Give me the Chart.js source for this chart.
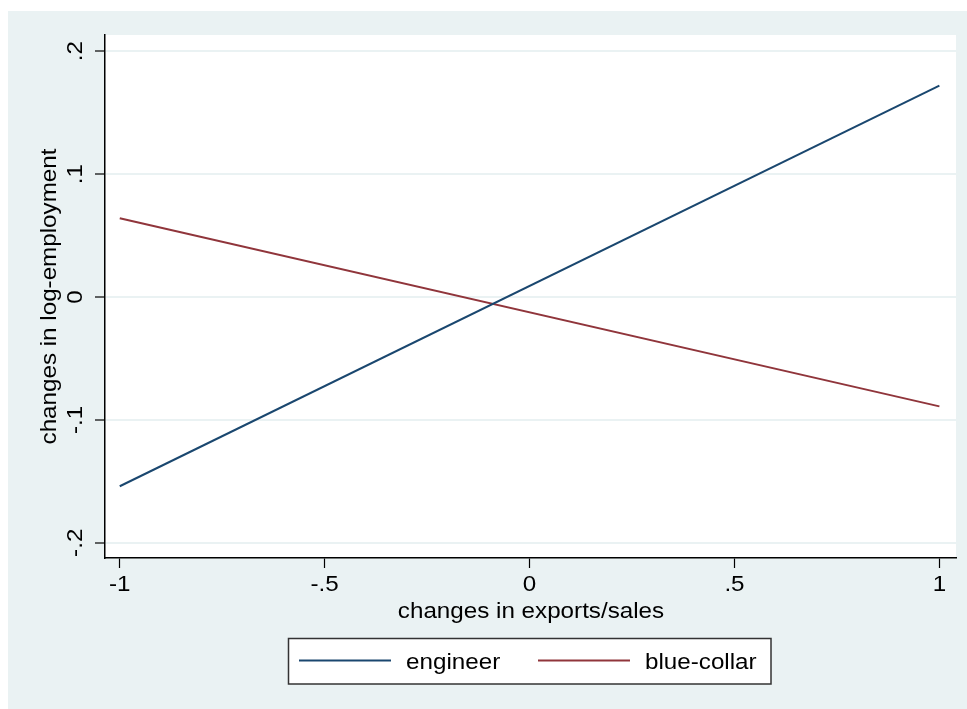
<!DOCTYPE html>
<html>
<head>
<meta charset="utf-8">
<script src="https://cdn.jsdelivr.net/npm/chart.js@4"></script>
<style>
  html, body { margin: 0; padding: 0; background: #fff; }
  canvas { display: block; }
</style>
</head>
<body>
<canvas id="chart" width="967" height="709"></canvas>
<script>
// values (fitted lines at the ends of the x range)
const xValues = [-1, 1];
const engineer = [-0.154, 0.172];
const blueCollar = [0.064, -0.089];

const xTicks = [-1, -0.5, 0, 0.5, 1];
const xTickLabels = ['-1', '-.5', '0', '.5', '1'];
const yTicks = [-0.2, -0.1, 0, 0.1, 0.2];
const yTickLabels = ['-.2', '-.1', '0', '.1', '.2'];

const seriesNames = ['engineer', 'blue-collar'];
const seriesColors = ['#1a476f', '#90353b'];

const BG = '#eaf2f3';
const FONT = '22px "Liberation Sans", Arial, sans-serif';

// Stata text looks a bit wider than Liberation Sans, so stretch it a little
function drawText(ctx, str, x, y, align, rotated) {
  ctx.save();
  ctx.translate(x, y);
  if (rotated) ctx.rotate(-Math.PI / 2);
  ctx.scale(1.1, 1);
  ctx.font = FONT;
  ctx.fillStyle = '#000';
  ctx.textAlign = align;
  ctx.textBaseline = 'alphabetic';
  ctx.fillText(str, 0, 0);
  ctx.restore();
}

const stataLook = {
  id: 'stataLook',
  beforeDraw(chart) {
    const ctx = chart.ctx;
    const a = chart.chartArea;
    ctx.save();
    ctx.fillStyle = '#fff';
    ctx.fillRect(0, 0, chart.width, chart.height);
    ctx.fillStyle = BG;
    ctx.fillRect(8, 11, chart.width - 8, chart.height - 11);
    ctx.fillStyle = '#fff';
    ctx.fillRect(a.left, a.top, a.right - a.left, a.bottom - a.top);
    ctx.restore();
  },
  afterDraw(chart) {
    const ctx = chart.ctx;
    const a = chart.chartArea;
    const xs = chart.scales.x;
    const ys = chart.scales.y;

    xTicks.forEach((v, i) => {
      drawText(ctx, xTickLabels[i], xs.getPixelForValue(v), 591, 'center', false);
    });
    yTicks.forEach((v, i) => {
      drawText(ctx, yTickLabels[i], 82, ys.getPixelForValue(v), 'center', true);
    });

    drawText(ctx, 'changes in exports/sales', (a.left + a.right) / 2 + 0.5, 618, 'center', false);
    drawText(ctx, 'changes in log-employment', 56, (a.top + a.bottom) / 2, 'center', true);

    // legend box
    ctx.save();
    ctx.fillStyle = '#fff';
    ctx.fillRect(288.5, 638.5, 482.5, 45.5);
    ctx.strokeStyle = '#333';
    ctx.lineWidth = 1.5;
    ctx.strokeRect(288.5, 638.5, 482.5, 45.5);
    const keyX = [299, 538];
    seriesNames.forEach((name, i) => {
      ctx.strokeStyle = seriesColors[i];
      ctx.lineWidth = 2;
      ctx.beginPath();
      ctx.moveTo(keyX[i], 660.5);
      ctx.lineTo(keyX[i] + 92, 660.5);
      ctx.stroke();
      drawText(ctx, name, keyX[i] + 107, 669, 'left', false);
    });
    ctx.restore();
  }
};

function series(values) {
  return xValues.map((x, i) => ({ x: x, y: values[i] }));
}

const config = {
  type: 'line',
  data: {
    datasets: [
      { label: seriesNames[0], data: series(engineer), borderColor: seriesColors[0] },
      { label: seriesNames[1], data: series(blueCollar), borderColor: seriesColors[1] }
    ]
  },
  options: {
    responsive: false,
    animation: false,
    layout: { padding: { left: 0, top: 35, right: 11, bottom: 0 } },
    elements: {
      line: { borderWidth: 2, tension: 0, fill: false },
      point: { radius: 0, hoverRadius: 0 }
    },
    plugins: {
      legend: { display: false },
      tooltip: { enabled: false }
    },
    scales: {
      x: {
        type: 'linear',
        min: -1.036,
        max: 1.0405,
        afterBuildTicks: (scale) => { scale.ticks = xTicks.map(v => ({ value: v })); },
        afterFit: (scale) => { scale.height = 151; },
        ticks: { display: false },
        grid: {
          color: 'rgba(0,0,0,0)',
          drawOnChartArea: false,
          tickColor: '#000',
          tickLength: 10,
          tickWidth: 1.2
        },
        border: { color: '#000', width: 1.5 }
      },
      y: {
        type: 'linear',
        min: -0.2124,
        max: 0.2132,
        afterBuildTicks: (scale) => { scale.ticks = yTicks.map(v => ({ value: v })); },
        afterFit: (scale) => { scale.width = 105; },
        ticks: { display: false },
        grid: {
          color: BG,
          lineWidth: 2,
          tickColor: '#000',
          tickLength: 10,
          tickWidth: 1.2
        },
        border: { color: '#000', width: 1.5 }
      }
    }
  },
  plugins: [stataLook]
};

new Chart(document.getElementById('chart'), config);
</script>
</body>
</html>
